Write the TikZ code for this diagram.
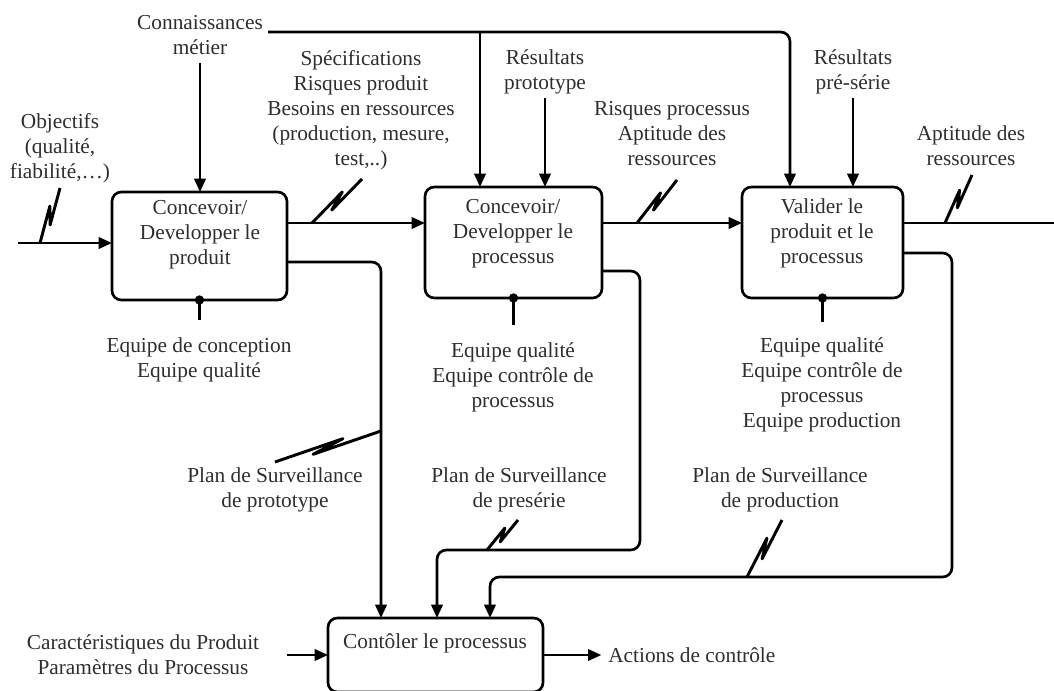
\documentclass[tikz,border=0pt]{standalone}
\usepackage{fontspec}
\setmainfont{Liberation Serif}
\usetikzlibrary{arrows.meta,calc}
\newcommand\zigmark[2]{\draw[zz] (#1) -- ($(#1)!0.65!(#2)!2.5pt!90:(#2)$) -- ($(#1)!0.35!(#2)!2.5pt!-90:(#2)$) -- (#2);}
\begin{document}
\begin{tikzpicture}[x=0.75pt,y=-0.75pt,
  lbl/.style={font=\fontsize{16}{18.75}\selectfont, align=center, inner sep=0pt, text=black!82},
  box/.style={draw, line width=2pt, rounded corners=7pt, inner sep=0pt, outer sep=0pt},
  ln/.style={line width=2pt, rounded corners=7pt},
  arr/.style={ln, -{Triangle[length=10pt,width=8.5pt]}},
  zz/.style={line width=2.2pt, line join=round},
]
\useasboundingbox (0,0) rectangle (1054,691);

% boxes
\node[box, minimum width=131.25pt, minimum height=81pt] (b1) at (199.5,246) {};
\node[lbl] (t1) at (200,235) {Concevoir/\\Developper le\\produit};
\node[box, minimum width=132.75pt, minimum height=83.25pt] (b2) at (513.5,242.5) {};
\node[lbl] (t2) at (513,234) {Concevoir/\\Developper le\\processus};
\node[box, minimum width=120.75pt, minimum height=83.25pt] (b3) at (822.5,242.5) {};
\node[lbl] (t3) at (822,233) {Valider le\\produit et le\\processus};
\node[box, minimum width=161.25pt, minimum height=55.5pt] (b4) at (435.5,655) {};
\node[lbl] (t4) at (435,643) {Contôler le processus};

% labels
\node[lbl] (obj) at (60,148) {Objectifs\\(qualité,\\fiabilité,…)};
\node[lbl] (conn) at (200,35) {Connaissances\\métier};
\node[lbl] (spec) at (361,110) {Spécifications\\Risques produit\\Besoins en ressources\\(production, mesure,\\test,..)};
\node[lbl] (rproto) at (545,72) {Résultats\\prototype};
\node[lbl] (rproc) at (672,134) {Risques processus\\Aptitude des\\ressources};
\node[lbl] (rpre) at (853,72) {Résultats\\pré-série};
\node[lbl] (apt) at (971,146) {Aptitude des\\ressources};
\node[lbl] (m1) at (199,360) {Equipe de conception\\Equipe qualité};
\node[lbl] (m2) at (513,377) {Equipe qualité\\Equipe contrôle de\\processus};
\node[lbl] (m3) at (822,385) {Equipe qualité\\Equipe contrôle de\\processus\\Equipe production};
\node[lbl] (p1) at (275,490) {Plan de Surveillance\\de prototype};
\node[lbl] (p2) at (519,490) {Plan de Surveillance\\de presérie};
\node[lbl] (p3) at (780,490) {Plan de Surveillance\\de production};
\node[lbl] (car) at (143,655) {Caractéristiques du Produit\\Paramètres du Processus};
\node[lbl, anchor=west] (act) at (608,655) {Actions de contrôle};

% inputs
\coordinate (oin) at (18,243);
\draw[arr] (oin) -- (b1.west |- oin);
\coordinate (z1a) at (40,243); \coordinate (z1b) at (60,188);
\zigmark{z1a}{z1b}

% controls
\coordinate (cstart) at (200,63);
\draw[arr] (cstart) -- (cstart |- b1.north);
\coordinate (cl) at (268,32); \coordinate (cr) at (790,32); \coordinate (cm) at (480,32);
\draw[arr] (cl) -- (cr) -- (cr |- b3.north);
\draw[arr] (cm) -- (cm |- b2.north);
\coordinate (rp) at (545,98);
\draw[arr] (rp) -- (rp |- b2.north);
\coordinate (rs) at (853,98);
\draw[arr] (rs) -- (rs |- b3.north);

% outputs
\coordinate (o1) at (0,223);
\draw[arr] (b1.east |- o1) -- (b2.west |- o1);
\coordinate (z2a) at (312,223); \coordinate (z2b) at (362,179);
\zigmark{z2a}{z2b}
\draw[arr] (b2.east |- o1) -- (b3.west |- o1);
\coordinate (z3a) at (637,223); \coordinate (z3b) at (677,180);
\zigmark{z3a}{z3b}
\coordinate (oend) at (1054,223);
\draw[ln] (b3.east |- o1) -- (oend);
\coordinate (z4a) at (945,223); \coordinate (z4b) at (972,175);
\zigmark{z4a}{z4b}

% surveillance plans
\coordinate (q1) at (381,262);
\draw[arr] (b1.east |- q1) -- (q1) -- (q1 |- b4.north);
\coordinate (z5a) at (381,431); \coordinate (z5b) at (275,462);
\zigmark{z5a}{z5b}
\coordinate (q2a) at (640,271); \coordinate (q2b) at (437,550);
\draw[arr] (b2.east |- q2a) -- (q2a) -- (q2a |- q2b) -- (q2b) -- (q2b |- b4.north);
\coordinate (z6a) at (487,550); \coordinate (z6b) at (518,520);
\zigmark{z6a}{z6b}
\coordinate (q3a) at (952,253); \coordinate (q3b) at (490,577);
\draw[arr] (b3.east |- q3a) -- (q3a) -- (q3a |- q3b) -- (q3b) -- (q3b |- b4.north);
\coordinate (z7a) at (747,577); \coordinate (z7b) at (782,520);
\zigmark{z7a}{z7b}

% mechanisms
\coordinate (mk1) at (199.5,320);
\draw[ln] (b1.south) -- (mk1);
\fill (b1.south) circle (3.5pt);
\coordinate (mk2) at (513.5,325);
\draw[ln] (b2.south) -- (mk2);
\fill (b2.south) circle (3.5pt);
\coordinate (mk3) at (822.5,322);
\draw[ln] (b3.south) -- (mk3);
\fill (b3.south) circle (3.5pt);

% bottom box
\coordinate (cin) at (287,655);
\draw[arr] (cin) -- (b4.west);
\draw[arr, shorten >=5pt] (b4.east) -- (act.west);
\end{tikzpicture}
\end{document}
